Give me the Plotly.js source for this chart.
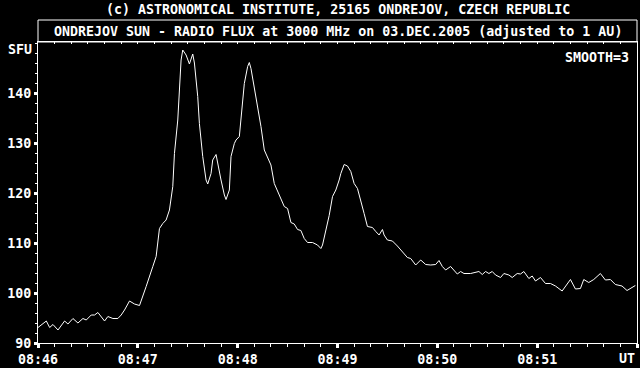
<!DOCTYPE html>
<html>
<head>
<meta charset="utf-8">
<script src="https://cdn.plot.ly/plotly-3.0.1.min.js"></script>
<style>html,body{margin:0;padding:0;background:#000;}#chart{width:640px;height:368px;}</style>
</head>
<body>
<div id="chart"></div>
<script>
// seconds after 08:46:00 UT
const tSec = [0,5,7,9,12,16,18,21,24,27,29,32,34,36,40,42,45,48,50,52,55,58,61,63,65,69,71,73,75,77,79,81,82,84,85,86,87,89,91,93,94,96,97,99,101,102,104,105,107,108,110,112,113,115,116,118,119,121,122,124,126,127,128,130,132,134,136,138,140,142,144,146,148,150,152,154,156,158,160,162,165,168,170,171,173,175,177,179,181,182,184,186,188,190,192,194,196,198,201,203,205,207,208,210,213,216,219,222,224,227,230,233,236,239,241,243,245,248,252,254,256,260,265,267,269,271,273,275,278,280,283,285,288,290,292,295,297,299,302,305,308,311,315,317,320,323,326,328,331,334,338,341,344,347,351,354,356,359];
const fluxSFU = [93.1,94.4,93.1,93.7,92.6,94.4,93.8,94.9,94.0,94.9,94.6,95.6,95.6,96.1,94.4,95.3,94.9,94.9,95.6,96.6,98.4,97.8,97.5,99.3,101.3,105.3,107.3,112.9,113.9,114.6,116.6,121.3,127.9,134.6,141.9,146.6,148.6,147.6,145.8,147.8,146.0,139.3,133.9,127.3,122.6,121.8,123.9,126.6,127.7,125.9,122.6,119.6,118.7,120.6,127.3,129.9,130.6,131.3,134.6,141.9,145.3,146.1,144.9,141.3,137.3,133.3,128.6,126.9,125.6,121.9,120.3,118.9,117.3,116.9,114.1,113.8,112.7,112.5,110.9,110.1,110.1,109.6,108.9,109.6,112.6,115.5,119.3,120.6,122.6,123.9,125.7,125.4,124.3,121.9,120.9,118.6,115.9,113.3,113.1,112.3,111.6,112.7,111.6,110.6,110.4,109.4,108.3,107.1,106.9,105.6,106.6,105.7,105.6,105.7,106.5,105.3,104.6,105.3,103.8,104.3,103.9,103.9,104.3,103.7,104.3,103.9,104.3,103.6,103.1,103.9,103.6,103.1,103.9,103.8,104.3,102.9,103.4,102.4,103.1,101.9,101.9,101.4,100.4,101.3,102.7,100.8,100.9,102.7,102.1,102.7,103.9,102.6,102.7,101.7,101.4,100.5,100.9,101.5];
const xTickVals = [0,60,120,180,240,300,360];
const xTickText = ['08:46','08:47','08:48','08:49','08:50','08:51',''];
const yTickVals = [90,100,110,120,130,140];
const titleTop = '(c) ASTRONOMICAL INSTITUTE, 25165 ONDREJOV, CZECH REPUBLIC';
const titleBox = 'ONDREJOV SUN - RADIO FLUX at 3000 MHz on 03.DEC.2005 (adjusted to 1 AU)';
const yLabel = 'SFU';
const xLabel = 'UT';
const smoothNote = 'SMOOTH=3';

const F = {family: 'DejaVu Sans Mono, monospace', size: 13.3, color: '#fff', weight: 'bold'};

const traces = [
  {x: tSec, y: fluxSFU, type: 'scatter', mode: 'lines', line: {color: '#fff', width: 1}, hoverinfo: 'skip', xaxis: 'x', yaxis: 'y'},
  {x: tSec, y: fluxSFU, type: 'scatter', mode: 'lines', line: {color: 'rgba(0,0,0,0)', width: 0}, hoverinfo: 'skip', xaxis: 'x2', yaxis: 'y', showlegend: false}
];

const layout = {
  width: 640, height: 368,
  paper_bgcolor: '#000', plot_bgcolor: '#000',
  margin: {l: 38, r: 3, t: 42, b: 25},
  showlegend: false,
  font: F,
  xaxis: {
    range: [0, 360], showgrid: false, zeroline: false,
    showline: true, linecolor: '#fff', linewidth: 1, mirror: false,
    tickmode: 'array', tickvals: xTickVals, ticktext: xTickText,
    ticks: 'outside', ticklen: 4, tickwidth: 3, tickcolor: '#fff',
    ticklabelstandoff: 0,
    minor: {dtick: 10, tick0: 0, ticks: 'outside', ticklen: 3, tickwidth: 1, tickcolor: '#fff', showgrid: false},
    tickfont: F, fixedrange: true
  },
  xaxis2: {
    overlaying: 'x', side: 'top', anchor: 'y', range: [0, 360],
    showgrid: false, zeroline: false, showline: true, linecolor: '#fff', linewidth: 1,
    showticklabels: false, dtick: 10, tick0: 0, ticks: 'inside', ticklen: 2, tickwidth: 1, tickcolor: '#fff'
  },
  yaxis: {
    range: [90, 150.2], showgrid: false, zeroline: false,
    showline: true, linecolor: '#fff', linewidth: 1, mirror: true,
    tickmode: 'array', tickvals: yTickVals,
    ticks: 'outside', ticklen: 3, tickwidth: 3, tickcolor: '#fff',
    minor: {dtick: 2, tick0: 90, ticks: 'outside', ticklen: 2, tickwidth: 1, tickcolor: '#fff', showgrid: false},
    tickfont: F, fixedrange: true
  },
  shapes: [
    {type: 'rect', xref: 'paper', yref: 'paper', x0: 0, x1: 1, y0: 1, y1: 1 + 22/301, line: {color: '#fff', width: 1}}
  ],
  annotations: [
    {text: titleTop, xref: 'paper', yref: 'paper', x: 0.5, y: (343-9)/301, xanchor: 'center', yanchor: 'middle', showarrow: false, font: F},
    {text: titleBox, xref: 'paper', yref: 'paper', x: 0.5, y: (343-31)/301, xanchor: 'center', yanchor: 'middle', showarrow: false, font: F},
    {text: yLabel, xref: 'paper', yref: 'paper', x: 0, y: (343-50)/301, xanchor: 'right', yanchor: 'middle', xshift: -4, showarrow: false, font: F},
    {text: smoothNote, xref: 'paper', yref: 'paper', x: 1, y: (343-57)/301, xanchor: 'right', yanchor: 'middle', xshift: -6, showarrow: false, font: F},
    {text: xLabel, xref: 'paper', yref: 'paper', x: 1, y: (343-358)/301, xanchor: 'right', yanchor: 'middle', showarrow: false, font: F}
  ]
};

Plotly.newPlot('chart', traces, layout, {staticPlot: true, displayModeBar: false});
</script>
</body>
</html>
